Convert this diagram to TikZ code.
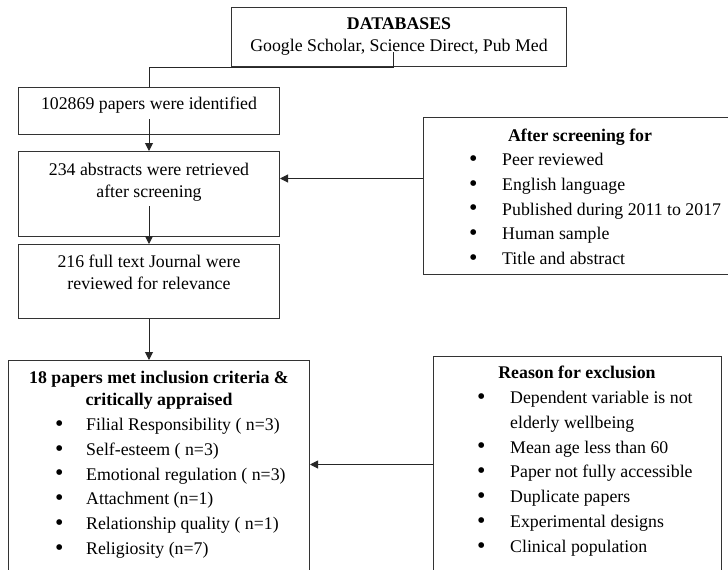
\documentclass[tikz,border=0pt]{standalone}
\usepackage{fontspec}
\setmainfont{Liberation Serif}
\usetikzlibrary{arrows.meta, positioning, calc}
\tikzset{
    box/.style={draw=black!80, line width=1pt, inner sep=0pt, anchor=north west},
    txt/.style={align=center, inner sep=0pt, anchor=north, font=\fontsize{17.8}{22}\selectfont},
    lst/.style={align=left, inner sep=0pt, anchor=north west, font=\fontsize{17.8}{24.8}\selectfont},
    arr/.style={-{Triangle[length=8pt, width=8pt]}, line width=1pt, black!85},
    ln/.style={line width=1pt, black!85},
}
\newcommand{\itm}[1][33pt]{\makebox[#1][l]{\raisebox{-0.8pt}{\scalebox{1.35}{\textbullet}}}}

\begin{document}
\begin{tikzpicture}[x=1pt, y=-1pt]
    \useasboundingbox (0,0) rectangle (728,570);
    \fill[white] (0,0) rectangle (728,570);
    \clip (0,0) rectangle (728,570);
    \node[box, minimum width=335pt, minimum height=59pt] (db) at (231,7) {};
    \node[box, minimum width=261pt, minimum height=47pt] (b1) at (18,87) {};
    \node[box, minimum width=261pt, minimum height=85pt] (b2) at (18,151) {};
    \node[box, minimum width=261pt, minimum height=74pt] (b3) at (18,244) {};
    \node[box, minimum width=301pt, minimum height=260pt] (b4) at (8,360) {};
    \node[box, minimum width=340pt, minimum height=157pt] (ra) at (423,117) {};
    \node[box, minimum width=288pt, minimum height=264pt] (rb) at (433,356) {};
    \node[txt, below=11pt of db.north] (dbt) {\textbf{DATABASES}\\Google Scholar, Science Direct, Pub Med};
    \node[txt, below=10pt of b1.north] (b1t) {102869 papers were identified};
    \node[txt, below=12pt of b2.north] (b2t) {234 abstracts were retrieved\\after screening};
    \node[txt, below=11pt of b3.north] (b3t) {216 full text Journal were\\reviewed for relevance};
    \node[txt, below=11pt of b4.north] (b4t) {\textbf{18 papers met inclusion criteria \&}\\\textbf{critically appraised}};
    \node[txt] (rat) at (580,129) {\textbf{After screening for}};
    \node[txt] (rbt) at (577,366) {\textbf{Reason for exclusion}};
    \node[lst] (b4l) at (55,418) {\itm[31pt]Filial Responsibility ( n=3)\\
        \itm[31pt]Self-esteem ( n=3)\\
        \itm[31pt]Emotional regulation ( n=3)\\
        \itm[31pt]Attachment (n=1)\\
        \itm[31pt]Relationship quality ( n=1)\\
        \itm[31pt]Religiosity (n=7)};
    \node[lst] (ral) at (469,153) {\itm Peer reviewed\\
        \itm English language\\
        \itm Published during 2011 to 2017\\
        \itm Human sample\\
        \itm Title and abstract};
    \node[lst] (rbl) at (477,391) {\itm Dependent variable is not\\
        \makebox[33pt]{}elderly wellbeing\\
        \itm Mean age less than 60\\
        \itm Paper not fully accessible\\
        \itm Duplicate papers\\
        \itm Experimental designs\\
        \itm Clinical population};
    \coordinate (dbstub) at (393,52);
    \draw[ln] (dbstub) |- (b1.north |- db.south) -- (b1.north);
    \draw[arr] ([yshift=16pt]b1.south) -- (b2.north);
    \draw[arr] ([yshift=31pt]b2.south) -- (b3.north);
    \draw[arr] (b3.south) -- (b3.south |- b4.north);
    \draw[arr] ([yshift=17.5pt]ra.west) -- ([yshift=17.5pt]ra.west -| b2.east);
    \draw[arr] ([yshift=24pt]rb.west) -- ([yshift=24pt]rb.west -| b4.east);
\end{tikzpicture}
\end{document}
